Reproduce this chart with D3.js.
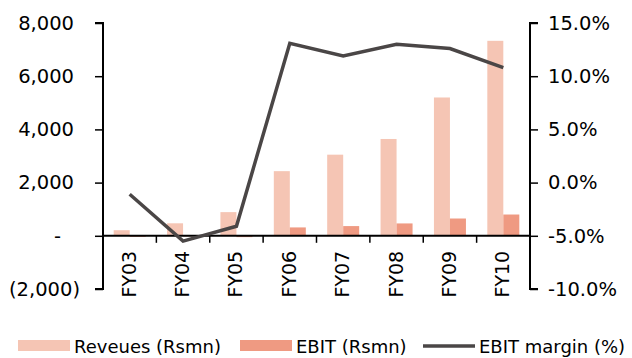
<!DOCTYPE html>
<html>
<head>
<meta charset="utf-8">
<script src="https://cdn.jsdelivr.net/npm/d3@7"></script>
<style>
  body { margin: 0; background: #fff; }
  text { font-family: "DejaVu Sans", sans-serif; fill: #000; }
</style>
</head>
<body>
<div id="chart"></div>
<script>
var years = ["FY03", "FY04", "FY05", "FY06", "FY07", "FY08", "FY09", "FY10"];
var revenues = [210, 470, 890, 2430, 3050, 3640, 5200, 7330];
var ebit = [-40, -20, -50, 315, 365, 465, 650, 800];
var margin = [-1.1, -5.5, -4.1, 13.1, 11.9, 13.0, 12.6, 10.8];
var leftTicks = [-2000, 0, 2000, 4000, 6000, 8000];
var rightTicks = [-10, -5, 0, 5, 10, 15];

var w = 632, h = 358;
var svg = d3.select("#chart").append("svg").attr("width", w).attr("height", h);

var plotL = 103, plotR = 530, plotT = 23, plotB = 289;

var x = d3.scaleBand().domain(years).range([plotL, plotR]);
var sub = d3.scaleBand().domain(["rev", "ebit"]).range([0, 32]);
var y = d3.scaleLinear().domain([-2000, 8000]).range([plotB, plotT]);
var y2 = d3.scaleLinear().domain([-10, 15]).range([plotB, plotT]);

var revColor = "#f5c5b4", ebitColor = "#ef9a82", lineColor = "#4a4646";
var fmt = d3.formatLocale({decimal: ".", thousands: ",", grouping: [3], currency: ["", ""], minus: "-"});

function groupX(d) { return x(d) + x.bandwidth() / 2 - 16; }

svg.append("g").selectAll("rect").data(years).enter().append("rect")
    .attr("x", function(d) { return groupX(d) + sub("rev"); })
    .attr("width", sub.bandwidth())
    .attr("y", function(d, i) { return y(Math.max(0, revenues[i])); })
    .attr("height", function(d, i) { return Math.abs(y(revenues[i]) - y(0)); })
    .attr("fill", revColor);

svg.append("g").selectAll("rect").data(years).enter().append("rect")
    .attr("x", function(d) { return groupX(d) + sub("ebit"); })
    .attr("width", sub.bandwidth())
    .attr("y", function(d, i) { return y(Math.max(0, ebit[i])); })
    .attr("height", function(d, i) { return Math.abs(y(ebit[i]) - y(0)); })
    .attr("fill", ebitColor);

// left axis (accounting style labels: negatives hang ")" past the column, zero is a dash)
var yAxis = svg.append("g")
    .attr("transform", "translate(" + plotL + ",0)")
    .call(d3.axisLeft(y).tickValues(leftTicks).tickSize(8).tickPadding(21)
      .tickFormat(function(d) {
        if (d === 0) return "-";
        var s = fmt.format(",")(Math.abs(d));
        return d < 0 ? "(" + s + ")" : s;
      }));
yAxis.select(".domain").attr("stroke-width", 2).attr("d", "M-8," + plotT + "H0V" + plotB + "H-8");
yAxis.selectAll("line").attr("stroke-width", 1.5);
yAxis.selectAll("text").attr("font-size", 19.5).style("font-family", "DejaVu Sans")
    .attr("dx", function(d) { return d < 0 ? 6 : (d === 0 ? -13 : 0); });

// right axis
var y2Axis = svg.append("g")
    .attr("transform", "translate(" + plotR + ",0)")
    .call(d3.axisRight(y2).tickValues(rightTicks).tickSize(8).tickPadding(10)
      .tickFormat(function(d) { return fmt.format(".1f")(d) + "%"; }));
y2Axis.select(".domain").attr("stroke-width", 2).attr("d", "M8," + plotT + "H0V" + plotB + "H8");
y2Axis.selectAll("line").attr("stroke-width", 1.5);
y2Axis.selectAll("text").attr("font-size", 19.5).style("font-family", "DejaVu Sans");

// x axis at zero
var xAxis = svg.append("g")
    .attr("transform", "translate(0," + y(0) + ")");
xAxis.append("line").attr("x1", plotL).attr("x2", plotR).attr("stroke", "#000").attr("stroke-width", 2);
xAxis.selectAll(".tk").data(years.slice(1)).enter().append("line")
    .attr("x1", function(d) { return x(d); }).attr("x2", function(d) { return x(d); })
    .attr("y1", 0).attr("y2", 7).attr("stroke", "#000").attr("stroke-width", 1.5);
xAxis.selectAll(".lbl").data(years).enter().append("text")
    .attr("transform", function(d) {
      return "translate(" + (x(d) + x.bandwidth() / 2 + 6) + ",15) rotate(-90)";
    })
    .attr("text-anchor", "end")
    .attr("font-size", 19)
    .text(function(d) { return d; });

// margin line
var line = d3.line()
    .x(function(d, i) { return x(years[i]) + x.bandwidth() / 2; })
    .y(function(d) { return y2(d); });
svg.append("path").datum(margin)
    .attr("fill", "none").attr("stroke", lineColor).attr("stroke-width", 3.5)
    .attr("d", line);

// legend
var lg = svg.append("g").attr("transform", "translate(0,346)");
var items = [
  {label: "Reveues (Rsmn)", type: "rect", color: revColor, x: 18},
  {label: "EBIT (Rsmn)", type: "rect", color: ebitColor, x: 240},
  {label: "EBIT margin (%)", type: "line", color: lineColor, x: 423}
];
items.forEach(function(it) {
  if (it.type === "rect") {
    lg.append("rect").attr("x", it.x).attr("y", -6).attr("width", 52).attr("height", 11).attr("fill", it.color);
  } else {
    lg.append("line").attr("x1", it.x).attr("x2", it.x + 52).attr("y1", 0).attr("y2", 0)
      .attr("stroke", it.color).attr("stroke-width", 3.5);
  }
  lg.append("text").attr("x", it.x + 56).attr("y", 6.5).attr("font-size", 18).text(it.label);
});
</script>
</body>
</html>
